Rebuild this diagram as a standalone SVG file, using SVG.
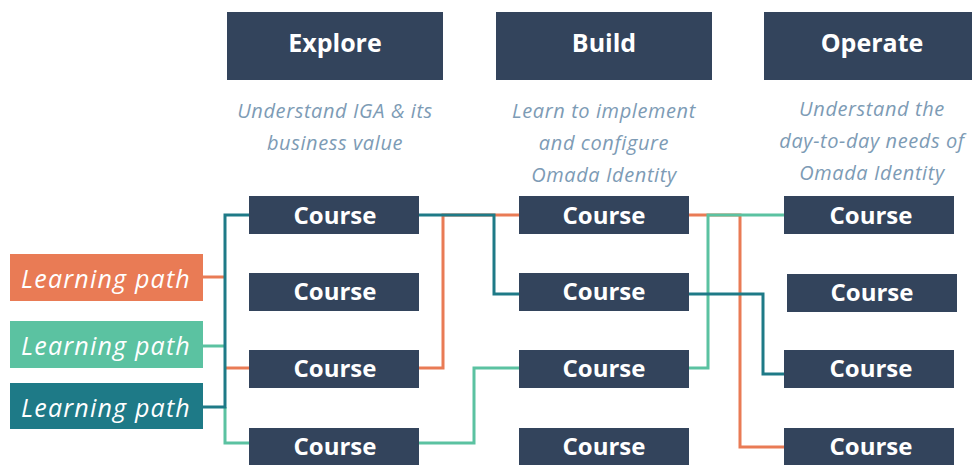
<svg xmlns="http://www.w3.org/2000/svg" width="972" height="465" viewBox="0 0 972 465">
<style>
.hdr{fill:#33445c}
.crs{fill:#33445c}
.ht{font-family:"Open Sans","DejaVu Sans",sans-serif;font-weight:700;font-size:25px;fill:#fff;text-anchor:middle}
.ct{font-family:"Open Sans","DejaVu Sans",sans-serif;font-weight:700;font-size:24px;fill:#fff;text-anchor:middle}
.sub{font-family:"Open Sans","DejaVu Sans",sans-serif;font-style:italic;font-size:20px;letter-spacing:0.6px;fill:#7d9bb5;text-anchor:middle}
.lpt{font-family:"Open Sans","DejaVu Sans",sans-serif;font-style:italic;font-size:25px;letter-spacing:1.2px;fill:#fff;text-anchor:middle}
.c{fill:none;stroke-width:3;stroke-linejoin:miter}
.or{stroke:#e97b55}.gr{stroke:#5bc2a1}.te{stroke:#1e7a87}
</style>
<rect width="972" height="465" fill="#fff"/>
<g id="connectors">
<path class="c or" d="M203 277H225"/>
<path class="c or" d="M225 368H249"/>
<path class="c or" d="M419 368H443V215H519"/>
<path class="c or" d="M689 215H740V447H784"/>
<path class="c gr" d="M203 346H225"/>
<path class="c gr" d="M225 407V443H249"/>
<path class="c gr" d="M419 443H474V368H519"/>
<path class="c gr" d="M689 368H708V215H784"/>
<path class="c te" d="M249 215H225V407H203"/>
<path class="c te" d="M419 215H494V294H519"/>
<path class="c te" d="M689 294H763V374H784"/>
</g>
<g id="explore"><rect class="hdr" x="227" y="12" width="216" height="68"/><text class="ht" x="335" y="52">Explore</text></g>
<g id="build"><rect class="hdr" x="496" y="12" width="216" height="68"/><text class="ht" x="604" y="52">Build</text></g>
<g id="operate"><rect class="hdr" x="764" y="12" width="216" height="68"/><text class="ht" x="872" y="52">Operate</text></g>
<g id="explore-desc"><text class="sub" x="335" y="118">Understand IGA &amp; its</text><text class="sub" x="335" y="150">business value</text></g>
<g id="build-desc"><text class="sub" x="604" y="118">Learn to implement</text><text class="sub" x="604" y="150">and configure</text><text class="sub" x="604" y="182">Omada Identity</text></g>
<g id="operate-desc"><text class="sub" x="872" y="116">Understand the</text><text class="sub" x="872" y="148">day-to-day needs of</text><text class="sub" x="872" y="180">Omada Identity</text></g>
<g id="lp1"><rect x="10" y="254" width="193" height="47" fill="#e97b55"/><text class="lpt" x="106" y="288">Learning path</text></g>
<g id="lp2"><rect x="10" y="321" width="193" height="47" fill="#5bc2a1"/><text class="lpt" x="106" y="355">Learning path</text></g>
<g id="lp3"><rect x="10" y="383" width="193" height="46" fill="#1e7a87"/><text class="lpt" x="106" y="417">Learning path</text></g>
<g id="c11"><rect class="crs" x="249" y="196" width="170" height="38"/><text class="ct" x="335" y="224">Course</text></g>
<g id="c12"><rect class="crs" x="249" y="273" width="170" height="38"/><text class="ct" x="335" y="300">Course</text></g>
<g id="c13"><rect class="crs" x="249" y="350" width="170" height="38"/><text class="ct" x="335" y="377">Course</text></g>
<g id="c14"><rect class="crs" x="249" y="428" width="170" height="38"/><text class="ct" x="335" y="455">Course</text></g>
<g id="c21"><rect class="crs" x="519" y="196" width="170" height="38"/><text class="ct" x="604" y="224">Course</text></g>
<g id="c22"><rect class="crs" x="519" y="273" width="170" height="38"/><text class="ct" x="604" y="300">Course</text></g>
<g id="c23"><rect class="crs" x="519" y="350" width="170" height="38"/><text class="ct" x="604" y="377">Course</text></g>
<g id="c24"><rect class="crs" x="519" y="428" width="170" height="38"/><text class="ct" x="604" y="455">Course</text></g>
<g id="c31"><rect class="crs" x="784" y="196" width="170" height="38"/><text class="ct" x="871" y="224">Course</text></g>
<g id="c32"><rect class="crs" x="787" y="274" width="170" height="38"/><text class="ct" x="872" y="301">Course</text></g>
<g id="c33"><rect class="crs" x="784" y="350" width="170" height="38"/><text class="ct" x="871" y="377">Course</text></g>
<g id="c34"><rect class="crs" x="784" y="428" width="170" height="38"/><text class="ct" x="871" y="455">Course</text></g>
</svg>
